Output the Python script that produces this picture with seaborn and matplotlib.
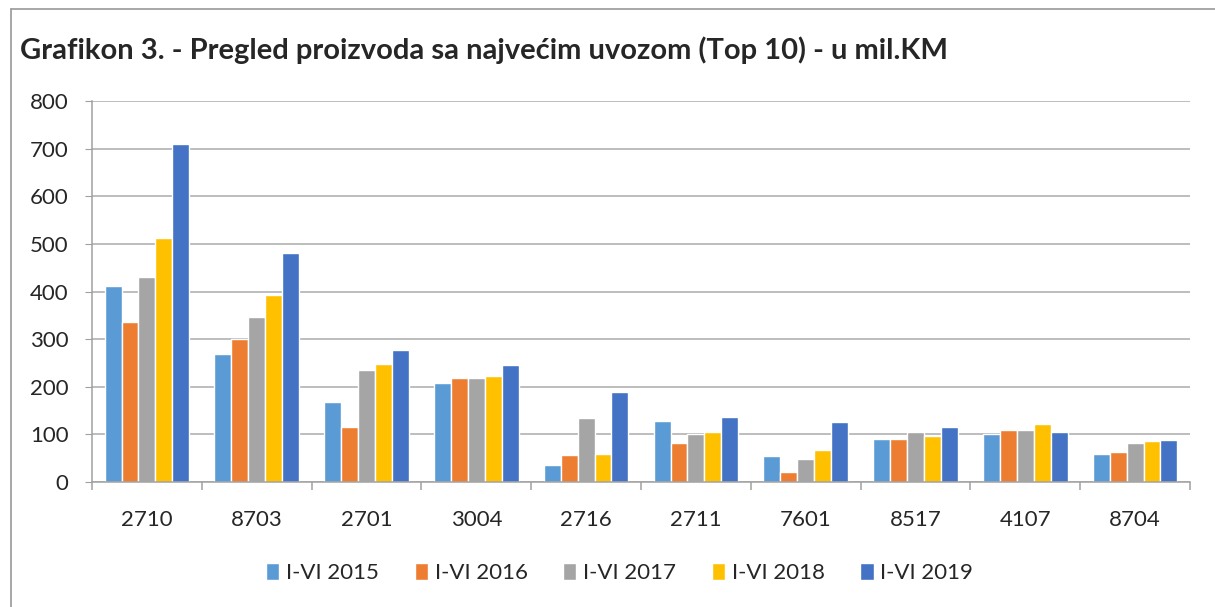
import pandas as pd
import seaborn as sns
import matplotlib.pyplot as plt
from matplotlib.lines import Line2D

# podaci - uvoz u mil. KM
codes = ["2710", "8703", "2701", "3004", "2716", "2711", "7601", "8517", "4107", "8704"]
years = ["I-VI 2015", "I-VI 2016", "I-VI 2017", "I-VI 2018", "I-VI 2019"]
v2015 = [412, 269, 167, 207, 36, 129, 54, 91, 101, 59]
v2016 = [336, 300, 116, 218, 56, 81, 22, 91, 110, 62]
v2017 = [431, 347, 235, 218, 134, 101, 49, 105, 110, 81]
v2018 = [513, 393, 247, 223, 59, 105, 68, 97, 121, 86]
v2019 = [709, 481, 277, 245, 188, 137, 126, 115, 105, 89]
colors = ["#5B9BD5", "#ED7D31", "#A5A5A5", "#FFC000", "#4472C4"]

rows = []
for yr, vals in zip(years, [v2015, v2016, v2017, v2018, v2019]):
    for c, v in zip(codes, vals):
        rows.append({"code": c, "year": yr, "value": v})
df = pd.DataFrame(rows)

sns.set_style("white")
plt.rcParams['font.family'] = ['Lato', 'DejaVu Sans']

fig = plt.figure(figsize=(12.15, 6.07), dpi=100)
ax = fig.add_axes([0.0757, 0.2059, 0.9794 - 0.0757, 0.8336 - 0.2059])

sns.barplot(data=df, x="code", y="value", hue="year", palette=colors,
            width=0.77, ax=ax, order=codes, hue_order=years, saturation=1)

ax.set_ylim(0, 800)
ax.set_xlim(-0.5, len(codes) - 0.5)
ax.set_yticks(range(0, 801, 100))
ax.yaxis.grid(True, color="#ABABAB", linewidth=1.1)
ax.set_axisbelow(True)
ax.set_xlabel("")
ax.set_ylabel("")
for s in ["top", "right"]:
    ax.spines[s].set_visible(False)
for s in ["left", "bottom"]:
    ax.spines[s].set_color("#A0A0A0")
    ax.spines[s].set_linewidth(1.1)

ax.tick_params(axis="y", labelsize=16, length=5, color="#A0A0A0", pad=12, left=True)
ax.tick_params(axis="x", which="major", labelsize=16, length=0, pad=20)
ax.set_xticks([i - 0.5 for i in range(len(codes) + 1)], minor=True)
ax.tick_params(axis="x", which="minor", length=6, color="#A0A0A0", width=1.1, bottom=True)

leg = ax.legend(loc="center", bbox_to_anchor=(0.51, 0.056), bbox_transform=fig.transFigure,
                ncol=5, frameon=False, fontsize=16, handlelength=0.6, handleheight=0.8,
                handletextpad=0.3, columnspacing=1.6)

fig.text(0.0165, 0.918, "Grafikon 3. - Pregled proizvoda sa najvećim uvozom (Top 10) - u mil.KM",
         fontsize=21, fontweight="bold", va="center", ha="left")

# okvir
fig.add_artist(Line2D([11 / 1215, 1], [1 - 9 / 607, 1 - 9 / 607], color="#A0A0A0", linewidth=1.3))
fig.add_artist(Line2D([11 / 1215, 11 / 1215], [0, 1 - 9 / 607], color="#A0A0A0", linewidth=1.3))

fig.savefig("out.png", dpi=100)
